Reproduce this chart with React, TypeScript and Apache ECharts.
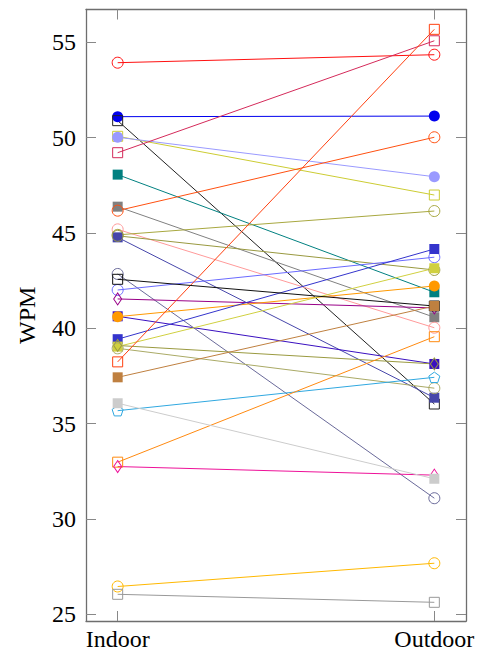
import React, { useEffect, useRef } from "react";
import * as echarts from "echarts";

const conditions = ["Indoor", "Outdoor"];
const yTicks = [25, 30, 35, 40, 45, 50, 55];

// WPM per participant: indoor, outdoor
const indoorWpm = [53.93, 51.1, 50.89, 50.07, 50.02, 49.21, 48.06, 46.38, 46.17, 45.19, 44.9, 44.77, 44.85, 42.85, 42.57, 42.01, 41.54, 40.63, 40.61, 39.43, 39.04, 39.1, 38.95, 38.24, 37.43, 36.07, 35.68, 32.98, 32.75, 26.46, 26.05];
const outdoorWpm = [54.35, 51.13, 36.03, 46.99, 47.95, 55.08, 41.89, 40.58, 50.02, 40.03, 46.15, 36.36, 43.06, 31.09, 41.17, 43.73, 41.07, 38.13, 42.22, 44.16, 43.15, 38.13, 36.86, 55.68, 41.17, 32.11, 37.43, 39.56, 32.3, 27.68, 25.63];

const PENTAGON = "path://M0,-1 L0.951,-0.309 L0.588,0.809 L-0.588,0.809 L-0.951,-0.309 Z";

// [color, symbol, filled, layer]
const styles: [string, string, boolean, number][] = [
  ["#ff1010", "circle", false, 2],
  ["#0000ee", "circle", true, 2],
  ["#222222", "rect", false, 2],
  ["#cccc33", "rect", false, 2],
  ["#9a9aff", "circle", true, 2],
  ["#d42a5a", "rect", false, 2],
  ["#008080", "rect", true, 2],
  ["#808080", "rect", true, 2],
  ["#ff5010", "circle", false, 2],
  ["#ff9a9a", "circle", false, 2],
  ["#a8a840", "circle", false, 2],
  ["#4646aa", "rect", true, 2],
  ["#999940", "circle", false, 2],
  ["#6a6a9a", "circle", false, 2],
  ["#111111", "rect", false, 3],
  ["#6a6aff", "circle", false, 2],
  ["#990088", "diamond", false, 2],
  ["#3a10c0", "rect", true, 2],
  ["#ff9900", "circle", true, 2],
  ["#3434cc", "rect", true, 2],
  ["#d0d040", "rect", true, 2],
  ["#9a9a40", "diamond", false, 2],
  ["#aaaa66", "circle", false, 2],
  ["#ff4010", "rect", false, 2],
  ["#bf8040", "rect", true, 3],
  ["#cccccc", "rect", true, 3],
  ["#30a8e0", PENTAGON, false, 2],
  ["#ff8a10", "rect", false, 2],
  ["#ee1199", "diamond", false, 2],
  ["#ffb800", "circle", false, 2],
  ["#999999", "rect", false, 2],
];

export default function App() {
  const ref = useRef<HTMLDivElement>(null);
  useEffect(() => {
    if (!ref.current) return;
    const chart = echarts.init(ref.current, undefined, { renderer: "svg" });
    const fontFamily = "'Liberation Serif', 'DejaVu Serif', serif";
    const axisColor = "#6e6e6e";
    const series = indoorWpm.map((v, i) => {
      const [color, symbol, filled, layer] = styles[i];
      return {
        type: "line",
        z: layer,
        data: [
          [0, v],
          [1, outdoorWpm[i]],
        ],
        symbol,
        symbolSize: symbol === "diamond" ? [8, 12] : symbol === "rect" ? 10 : 11,
        symbolKeepAspect: true,
        lineStyle: { color, width: 1 },
        itemStyle: {
          color: filled ? color : "rgba(255,255,255,0)",
          borderColor: color,
          borderWidth: filled ? 0 : 1,
        },
        emphasis: { disabled: true },
        silent: true,
      };
    });
    const xCommon = {
      type: "value",
      min: -0.1,
      max: 1.1,
      splitLine: { show: false },
      axisLine: { show: true, onZero: false, lineStyle: { color: axisColor, width: 1.3 } },
      axisTick: { show: true, inside: true, length: 10, customValues: [0, 1], lineStyle: { color: "#888", width: 1 } },
    };
    const yCommon = {
      type: "value",
      min: 24.65,
      max: 56.72,
      splitLine: { show: false },
      axisLine: { show: true, onZero: false, lineStyle: { color: axisColor, width: 1.3 } },
      axisTick: { show: true, inside: true, length: 10, customValues: yTicks, lineStyle: { color: "#888", width: 1 } },
    };
    chart.setOption({
      animation: false,
      grid: { left: 86, right: 15, top: 9.5, bottom: 38, containLabel: false },
      xAxis: [
        {
          ...xCommon,
          position: "bottom",
          axisLabel: {
            show: true,
            customValues: [0, 1],
            formatter: (v: number) => conditions[Math.round(v)],
            fontFamily,
            fontSize: 24,
            color: "#000",
            margin: 6,
          },
        },
        { ...xCommon, position: "top", axisLabel: { show: false } },
      ],
      yAxis: [
        {
          ...yCommon,
          position: "left",
          name: "WPM",
          nameLocation: "middle",
          nameGap: 47,
          nameTextStyle: { fontFamily, fontSize: 24, color: "#000" },
          axisLabel: {
            show: true,
            customValues: yTicks,
            fontFamily,
            fontSize: 24,
            color: "#000",
            margin: 10,
          },
        },
        { ...yCommon, position: "right", axisLabel: { show: false } },
      ],
      series,
    });
    return () => chart.dispose();
  }, []);
  return <div ref={ref} style={{ width: 481, height: 659, position: "absolute", left: 0, top: 0 }} />;
}
